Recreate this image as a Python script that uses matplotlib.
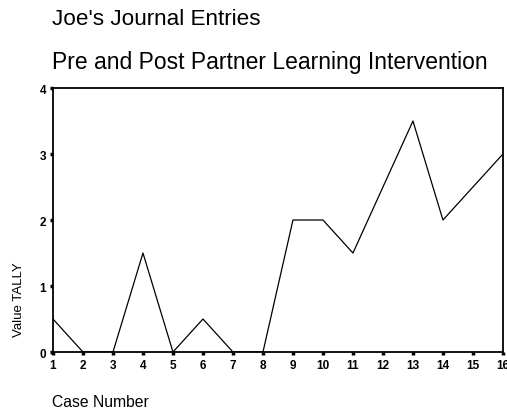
import numpy as np
import matplotlib.pyplot as plt

# Joe's journal tally per case
case_number = [1, 2, 3, 4, 5, 6, 7, 8, 9, 10, 11, 12, 13, 14, 15, 16]
tally = [0.5, 0, 0, 1.5, 0, 0.5, 0, 0, 2, 2, 1.5, 2.5, 3.5, 2, 2.5, 3]
y_ticks = [0, 1, 2, 3, 4]

plt.rcParams['font.family'] = ['Liberation Sans', 'DejaVu Sans']

fig = plt.figure(figsize=(5.07, 4.14), dpi=100)
ax = fig.add_axes([0.1045, 0.1473, 0.8875, 0.6377])

ax.plot(case_number, tally, color="black", linewidth=0.9)

ax.set_xlim(1, 16)
ax.set_ylim(0, 4)
ax.set_xticks(case_number)
ax.set_yticks(y_ticks)
ax.tick_params(length=2, width=2.5, direction="out", labelsize=8.5, pad=3)
for lab in ax.get_xticklabels() + ax.get_yticklabels():
    lab.set_fontweight("bold")
for s in ax.spines.values():
    s.set_linewidth(1.3)

fig.text(0.103, 0.952, "Joe's Journal Entries", fontsize=16.2, ha="left", va="center")
fig.text(0.103, 0.848, "Pre and Post Partner Learning Intervention", fontsize=16.5, ha="left", va="center")
fig.text(0.037, 0.275, "Value TALLY", fontsize=9.5, rotation=90, ha="center", va="center")
fig.text(0.103, 0.027, "Case Number", fontsize=11.3, ha="left", va="center")

fig.savefig("out.png", dpi=100)
